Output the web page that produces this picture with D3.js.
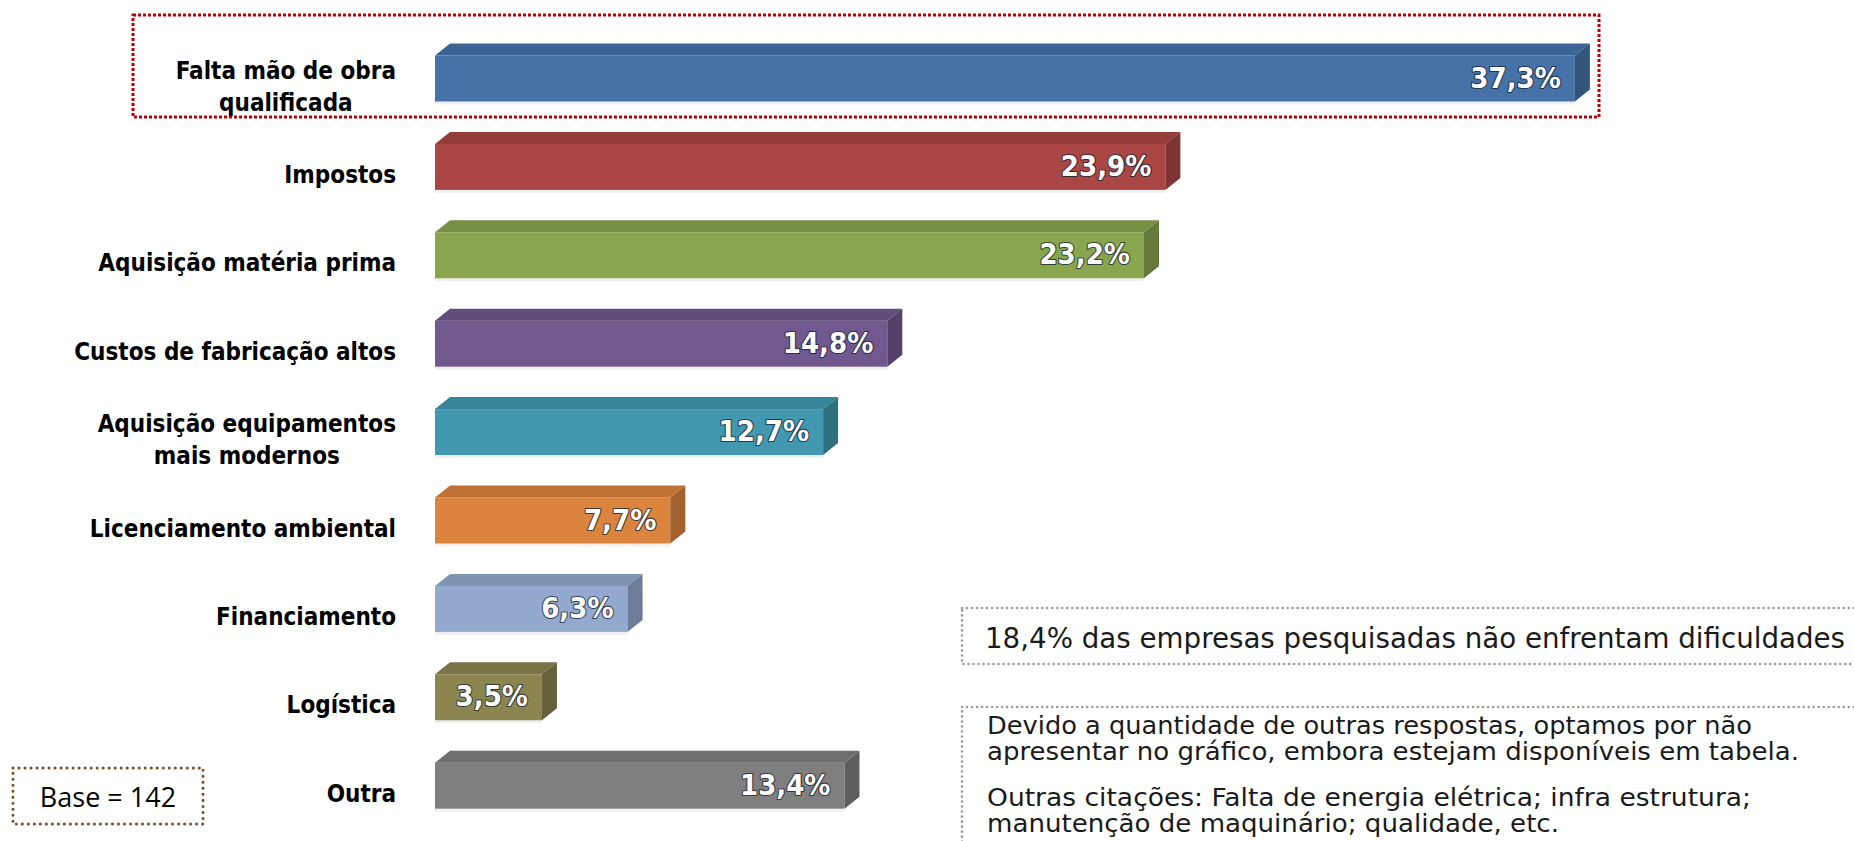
<!DOCTYPE html>
<html>
<head>
<meta charset="utf-8">
<script src="https://cdn.jsdelivr.net/npm/d3@7"></script>
<style>
  html, body { margin: 0; padding: 0; background: #fff; }
  svg { display: block; }
</style>
</head>
<body>
<svg id="chart" width="1854" height="841"></svg>
<script>
// ---- data ----
const categories = [
  "Falta mão de obra\nqualificada",
  "Impostos",
  "Aquisição matéria prima",
  "Custos de fabricação altos",
  "Aquisição equipamentos\nmais modernos",
  "Licenciamento ambiental",
  "Financiamento",
  "Logística",
  "Outra"
];
const values = [37.3, 23.9, 23.2, 14.8, 12.7, 7.7, 6.3, 3.5, 13.4];
const barColors = ["#4572A7", "#AA4643", "#89A54E", "#71588F", "#4198AF", "#DB843D", "#93A9CF", "#8C8550", "#7F7F7F"];
const noteMain = "18,4% das empresas pesquisadas não enfrentam dificuldades";
const noteLines = [
  "Devido a quantidade de outras respostas, optamos por não",
  "apresentar no gráfico, embora estejam disponíveis em tabela.",
  "Outras citações: Falta de energia elétrica; infra estrutura;",
  "manutenção de maquinário; qualidade, etc."
];
const baseLabel = "Base = 142";

// ---- setup ----
const svg = d3.select("#chart");
const x = d3.scaleLinear().domain([0, 40]).range([435, 435 + 40 * 30.56]);
const y = d3.scalePoint().domain(categories).range([78.5, 785.7]);
const barH = 46, dx = 15, dy = 12;
const ptBR = d3.formatLocale({decimal: ",", thousands: ".", grouping: [3], currency: ["R$", ""]});
const fmt = v => ptBR.format(".1f")(v) + "%";

const data = categories.map((c, i) => ({cat: c, v: values[i], color: barColors[i]}));

// ---- highlight box around first item ----
svg.append("rect")
  .attr("x", 133).attr("y", 15).attr("width", 1599 - 133).attr("height", 117 - 15)
  .attr("fill", "none").attr("stroke", "#C00000").attr("stroke-width", 3)
  .attr("stroke-dasharray", "3,2");

// ---- bars ----
const bars = svg.append("g").selectAll("g.bar").data(data).join("g").attr("class", "bar");

bars.each(function(d) {
  const g = d3.select(this);
  const x0 = x(0), x1 = x(d.v);
  const top = y(d.cat) - barH / 2, bot = y(d.cat) + barH / 2;
  const base = d3.color(d.color);
  // shadow
  g.append("rect").attr("x", x0).attr("y", bot).attr("width", x1 - x0).attr("height", 3)
    .attr("fill", "#000").attr("opacity", 0.06);
  // front
  g.append("rect").attr("x", x0).attr("y", top).attr("width", x1 - x0).attr("height", barH)
    .attr("fill", base.formatHex());
  // top face
  g.append("path")
    .attr("d", `M${x0},${top}L${x0 + dx},${top - dy}L${x1 + dx},${top - dy}L${x1},${top}Z`)
    .attr("fill", base.darker(0.4).formatHex());
  // side face
  g.append("path")
    .attr("d", `M${x1},${top}L${x1 + dx},${top - dy}L${x1 + dx},${bot - dy}L${x1},${bot}Z`)
    .attr("fill", base.darker(0.85).formatHex());
  // value label
  g.append("text")
    .attr("x", x1 - 14).attr("y", y(d.cat) - 1)
    .attr("text-anchor", "end").attr("dominant-baseline", "central")
    .attr("font-family", "'DejaVu Sans Condensed', 'DejaVu Sans', sans-serif")
    .attr("font-stretch", "condensed")
    .attr("font-weight", "bold").attr("font-size", 29)
    .attr("fill", "#fff")
    .attr("stroke", "rgba(20,30,50,0.75)").attr("stroke-width", 2.2)
    .attr("paint-order", "stroke").attr("stroke-linejoin", "round")
    .text(fmt(d.v));
});

// ---- category labels ----
const labels = svg.append("g").selectAll("g.lab").data(data).join("g").attr("class", "lab");
labels.each(function(d) {
  const g = d3.select(this);
  const lines = d.cat.split("\n");
  const b0 = y(d.cat) + 16 - (lines.length - 1) * 16;
  const t = g.append("text")
    .attr("font-family", "'DejaVu Sans Condensed', 'DejaVu Sans', sans-serif")
    .attr("font-stretch", "condensed")
    .attr("font-weight", "bold").attr("font-size", 24)
    .attr("fill", "#000").attr("text-anchor", "middle");
  lines.forEach((l, i) => {
    t.append("tspan").attr("x", 0).attr("y", b0 + i * 32).text(l);
  });
  const w = d3.max(t.selectAll("tspan").nodes(), n => n.getComputedTextLength());
  g.attr("transform", `translate(${396 - w / 2},0)`);
});

// ---- notes ----
const dotted = sel => sel.attr("fill", "none").attr("stroke", "#9A9A9A").attr("stroke-width", 2.6)
  .attr("stroke-linecap", "round").attr("stroke-dasharray", "0.01,5");

svg.append("rect").attr("x", 962).attr("y", 608).attr("width", 1100).attr("height", 56).call(dotted);
svg.append("text")
  .attr("x", 985).attr("y", 648)
  .attr("font-family", "'DejaVu Sans', sans-serif")
  .attr("font-size", 28).attr("fill", "#1a1a1a")
  .attr("textLength", 860).attr("lengthAdjust", "spacingAndGlyphs")
  .text(noteMain);

svg.append("rect").attr("x", 962).attr("y", 707).attr("width", 1100).attr("height", 300).call(dotted);
const noteY = [734, 760, 806, 832];
const noteW = [765, 812, 764, 572];
svg.append("g").selectAll("text").data(noteLines).join("text")
  .attr("x", 987).attr("y", (d, i) => noteY[i])
  .attr("font-family", "'DejaVu Sans', sans-serif")
  .attr("font-size", 25).attr("fill", "#1a1a1a")
  .attr("textLength", (d, i) => noteW[i]).attr("lengthAdjust", "spacingAndGlyphs")
  .text(d => d);

// ---- base box ----
svg.append("rect").attr("x", 13).attr("y", 768).attr("width", 190).attr("height", 56)
  .attr("fill", "none").attr("stroke", "#7A4A1A").attr("stroke-width", 3)
  .attr("stroke-linecap", "round").attr("stroke-dasharray", "0.01,6");
svg.append("text")
  .attr("x", 108).attr("y", 807).attr("text-anchor", "middle")
  .attr("font-family", "'Open Sans', sans-serif").attr("font-size", 27).attr("fill", "#000")
  .text(baseLabel);
</script>
</body>
</html>
